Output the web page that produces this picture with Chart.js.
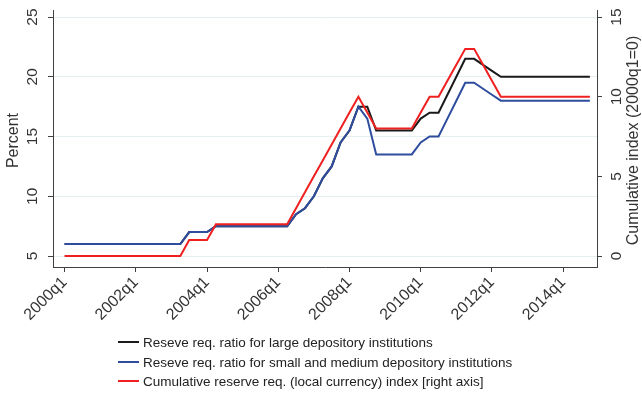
<!DOCTYPE html>
<html>
<head>
<meta charset="utf-8">
<script src="https://cdn.jsdelivr.net/npm/chart.js@4"></script>
<style>
    html, body { margin: 0; padding: 0; background: #fff; }
    #wrap { position: relative; width: 642px; height: 395px; }
    #legend { position: absolute; left: 118px; top: 333px; font: 13.5px "Liberation Sans", Arial, sans-serif; color: #222; }
    #legend div { height: 19.5px; line-height: 19.5px; white-space: nowrap; }
    #legend span.sw { display: inline-block; width: 21px; height: 2px; vertical-align: middle; margin-right: 4px; position: relative; top: -1px; }
</style>
</head>
<body>
<div id="wrap">
    <canvas id="chart" width="642" height="395"></canvas>
    <div id="legend"></div>
</div>
<script>
// Quarters 2000q1 .. 2014q4 (x value = quarter index)
const quarters = [];
for (let y = 2000; y <= 2014; y++) {
    for (let q = 1; q <= 4; q++) quarters.push(y + 'q' + q);
}

// Reserve req. ratio, large depository institutions (percent, left axis)
const largeRatio = [
    6, 6, 6, 6, 6, 6, 6, 6, 6, 6, 6, 6, 6, 6,
    7, 7, 7,
    7.5, 7.5, 7.5, 7.5, 7.5, 7.5, 7.5, 7.5, 7.5,
    8.5, 9, 10, 11.5, 12.5, 14.5, 15.5, 17.5, 17.5,
    15.5, 15.5, 15.5, 15.5, 15.5,
    16.5, 17, 17, 18.5, 20, 21.5, 21.5, 21, 20.5,
    20, 20, 20, 20, 20, 20, 20, 20, 20, 20, 20
];

// Reserve req. ratio, small and medium depository institutions (percent, left axis)
const smallRatio = [
    6, 6, 6, 6, 6, 6, 6, 6, 6, 6, 6, 6, 6, 6,
    7, 7, 7,
    7.5, 7.5, 7.5, 7.5, 7.5, 7.5, 7.5, 7.5, 7.5,
    8.5, 9, 10, 11.5, 12.5, 14.5, 15.5, 17.5, 16.5,
    13.5, 13.5, 13.5, 13.5, 13.5,
    14.5, 15, 15, 16.5, 18, 19.5, 19.5, 19, 18.5,
    18, 18, 18, 18, 18, 18, 18, 18, 18, 18, 18
];

// Cumulative reserve req. index (right axis)
const cumIndex = [
    0, 0, 0, 0, 0, 0, 0, 0, 0, 0, 0, 0, 0, 0,
    1, 1, 1,
    2, 2, 2, 2, 2, 2, 2, 2, 2,
    3, 4, 5, 6, 7, 8, 9, 10, 9,
    8, 8, 8, 8, 8,
    9, 10, 10, 11, 12, 13, 13, 12, 11,
    10, 10, 10, 10, 10, 10, 10, 10, 10, 10, 10
];

const xTickLabels = ['2000q1', '2002q1', '2004q1', '2006q1', '2008q1', '2010q1', '2012q1', '2014q1'];
const leftTicks = [5, 10, 15, 20, 25];
const rightTicks = [0, 5, 10, 15];

const seriesLabels = [
    'Reseve req. ratio for large depository institutions',
    'Reseve req. ratio for small and medium depository institutions',
    'Cumulative reserve req. (local currency) index [right axis]'
];
const seriesColors = ['#1a1a1a', '#2f4d9e', '#f02020'];

const axisColor = '#404040';
const textColor = '#333';
const fontFamily = '"Liberation Sans", Arial, sans-serif';

function toPoints(values) {
    return values.map((v, i) => ({ x: i, y: v }));
}

// draws rotated y tick labels and axis titles the way the original does
const yAxisText = {
    id: 'yAxisText',
    afterDraw(chart) {
        const ctx = chart.ctx;
        const yl = chart.scales.yLeft;
        const yr = chart.scales.yRight;
        const area = chart.chartArea;
        ctx.save();
        ctx.fillStyle = textColor;
        ctx.font = '15.5px ' + fontFamily;
        ctx.textAlign = 'center';
        ctx.textBaseline = 'middle';
        leftTicks.forEach(v => {
            ctx.save();
            ctx.translate(area.left - 20, yl.getPixelForValue(v));
            ctx.rotate(-Math.PI / 2);
            ctx.fillText(String(v), 0, 0);
            ctx.restore();
        });
        rightTicks.forEach(v => {
            ctx.save();
            ctx.translate(area.right + 20, yr.getPixelForValue(v));
            ctx.rotate(-Math.PI / 2);
            ctx.fillText(String(v), 0, 0);
            ctx.restore();
        });
        ctx.font = '16px ' + fontFamily;
        const midY = (area.top + area.bottom) / 2 + 2;
        ctx.save();
        ctx.translate(14, midY);
        ctx.rotate(-Math.PI / 2);
        ctx.fillText('Percent', 0, 0);
        ctx.restore();
        ctx.save();
        ctx.translate(634, midY);
        ctx.rotate(-Math.PI / 2);
        ctx.fillText('Cumulative index (2000q1=0)', 0, 0);
        ctx.restore();
        ctx.restore();
    }
};

const ctx = document.getElementById('chart').getContext('2d');
const chart = new Chart(ctx, {
    type: 'line',
    data: {
        datasets: [
            { label: seriesLabels[0], data: toPoints(largeRatio), yAxisID: 'yLeft', borderColor: seriesColors[0], order: 3 },
            { label: seriesLabels[1], data: toPoints(smallRatio), yAxisID: 'yLeft', borderColor: seriesColors[1], order: 2 },
            { label: seriesLabels[2], data: toPoints(cumIndex), yAxisID: 'yRight', borderColor: seriesColors[2], order: 1 }
        ]
    },
    options: {
        responsive: false,
        animation: false,
        layout: { padding: { top: 10, left: 0, right: 0, bottom: 0 } },
        elements: {
            point: { radius: 0 },
            line: { borderWidth: 2, tension: 0, fill: false }
        },
        plugins: {
            legend: { display: false },
            tooltip: { enabled: false }
        },
        scales: {
            x: {
                type: 'linear',
                min: -1.3,
                max: 59.8,
                afterBuildTicks: scale => {
                    scale.ticks = xTickLabels.map(lbl => ({ value: quarters.indexOf(lbl) }));
                },
                afterFit: scale => { scale.height = 128; },
                ticks: {
                    color: textColor,
                    font: { family: fontFamily, size: 16 },
                    maxRotation: 45,
                    minRotation: 45,
                    padding: 1,
                    callback: value => quarters[value]
                },
                grid: { drawOnChartArea: false, tickLength: 5, tickColor: axisColor },
                border: { color: axisColor, width: 1 }
            },
            yLeft: {
                position: 'left',
                min: 4.08,
                max: 25.59,
                afterBuildTicks: scale => {
                    scale.ticks = leftTicks.map(v => ({ value: v }));
                },
                afterFit: scale => { scale.width = 53; },
                ticks: { display: false },
                grid: { color: '#e4eff1', lineWidth: 1, tickLength: 5, tickColor: axisColor },
                border: { color: axisColor, width: 1 }
            },
            yRight: {
                position: 'right',
                min: -0.69,
                max: 15.44,
                afterBuildTicks: scale => {
                    scale.ticks = rightTicks.map(v => ({ value: v }));
                },
                afterFit: scale => { scale.width = 45; },
                ticks: { display: false },
                grid: { drawOnChartArea: false, tickLength: 5, tickColor: axisColor },
                border: { color: axisColor, width: 1 }
            }
        }
    },
    plugins: [yAxisText]
});

// legend below the plot
const legend = document.getElementById('legend');
seriesLabels.forEach((lbl, i) => {
    const row = document.createElement('div');
    row.innerHTML = '<span class="sw" style="background:' + seriesColors[i] + '"></span>' + lbl;
    legend.appendChild(row);
});
</script>
</body>
</html>
